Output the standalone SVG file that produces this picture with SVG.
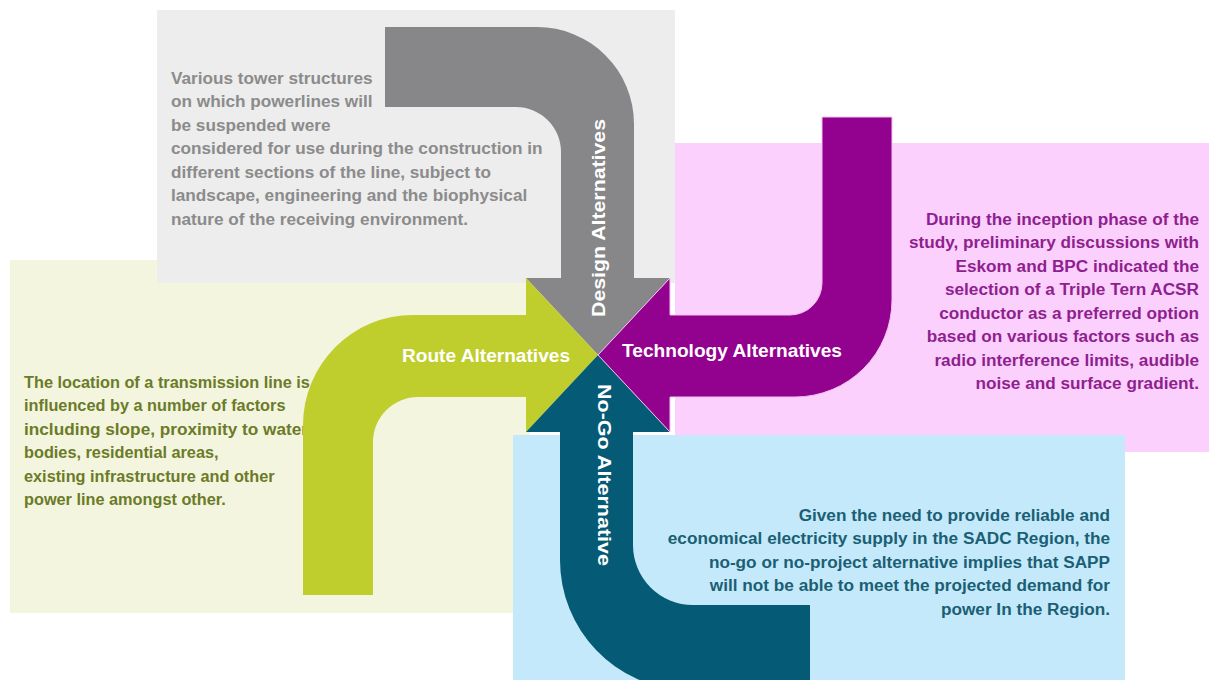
<svg xmlns="http://www.w3.org/2000/svg" width="1209" height="680" viewBox="0 0 1209 680">
<style>
.t{font-family:"Liberation Sans",Arial,"Helvetica",sans-serif;font-weight:bold}
.desc{font-size:17.2px}
.gtxt{fill:#8b8b8b}
.ptxt{fill:#8f1f8f;text-anchor:end}
.ltxt{fill:#6b7b28;font-size:16.3px}
.btxt{fill:#1b5f74;text-anchor:end}
.lbl{fill:#ffffff;text-anchor:middle}
</style>
<rect width="1209" height="680" fill="#ffffff"/>
<g id="route-node">
<rect x="10" y="260" width="520" height="353" fill="#f3f5df"/>
<text class="t ltxt" x="24" y="387.5">The location of a transmission line is</text>
<text class="t ltxt" x="24" y="411">influenced by a number of factors</text>
<text class="t ltxt" x="24" y="434.5" textLength="284" lengthAdjust="spacingAndGlyphs">including slope, proximity to water</text>
<text class="t ltxt" x="24" y="458">bodies, residential areas,</text>
<text class="t ltxt" x="24" y="481.5">existing infrastructure and other</text>
<text class="t ltxt" x="24" y="505">power line amongst other.</text>
</g>
<g id="design-node">
<rect x="157" y="10" width="518" height="273" fill="#ededed"/>
<text class="t desc gtxt" x="171" y="83.5">Various tower structures</text>
<text class="t desc gtxt" x="171" y="107">on which powerlines will</text>
<text class="t desc gtxt" x="171" y="130.5">be suspended were</text>
<text class="t desc gtxt" x="171" y="154">considered for use during the construction in</text>
<text class="t desc gtxt" x="171" y="177.5">different sections of the line, subject to</text>
<text class="t desc gtxt" x="171" y="201">landscape, engineering and the biophysical</text>
<text class="t desc gtxt" x="171" y="224.5">nature of the receiving environment.</text>
</g>
<g id="technology-node">
<rect x="675" y="143" width="534" height="309" fill="#fcd0fc"/>
<text class="t desc ptxt" x="1199" y="224.5">During the inception phase of the</text>
<text class="t desc ptxt" x="1199" y="248">study, preliminary discussions with</text>
<text class="t desc ptxt" x="1199" y="271.5">Eskom and BPC indicated the</text>
<text class="t desc ptxt" x="1199" y="295">selection of a Triple Tern ACSR</text>
<text class="t desc ptxt" x="1199" y="318.5">conductor as a preferred option</text>
<text class="t desc ptxt" x="1199" y="342">based on various factors such as</text>
<text class="t desc ptxt" x="1199" y="365.5">radio interference limits, audible</text>
<text class="t desc ptxt" x="1199" y="389">noise and surface gradient.</text>
</g>
<g id="nogo-node">
<rect x="513" y="435" width="612" height="250" fill="#c4e9fb"/>
<text class="t desc btxt" x="1110" y="520.5">Given the need to provide reliable and</text>
<text class="t desc btxt" x="1110" y="544">economical electricity supply in the SADC Region, the</text>
<text class="t desc btxt" x="1110" y="567.5">no-go or no-project alternative implies that SAPP</text>
<text class="t desc btxt" x="1110" y="591">will not be able to meet the projected demand for</text>
<text class="t desc btxt" x="1110" y="614.5">power In the Region.</text>
</g>
<g id="connectors">
<path id="design-arrow" fill="#87878a" d="M385,27 H537 A97,97 0 0 1 634,124 V278 H670 L598,355 L526,278 H561 V152 A45,45 0 0 0 516,107 H385 Z"/>
<path id="route-arrow" fill="#bfce2c" d="M303,595 V425 A110,110 0 0 1 413,315 H526 V278 L598,355 L526,432 V397 H418 A45,45 0 0 0 373,442 V595 Z"/>
<path id="nogo-arrow" fill="#055a75" d="M560,432 H526 L598,355 L670,432 H633 V545 A60,60 0 0 0 693,605 H810 V690 H685 A130,130 0 0 1 560,560 Z"/>
<path id="technology-arrow" fill="#93028f" stroke="#f0c4f0" stroke-width="1" d="M822,117 H892 V300 A97,97 0 0 1 795,397 H670 V432 L598,355 L670,278 V315 H790 A32,32 0 0 0 822,283 Z"/>
<text class="t lbl" font-size="19" x="486" y="362" textLength="168" lengthAdjust="spacingAndGlyphs">Route Alternatives</text>
<text class="t lbl" font-size="19" x="732" y="357" textLength="220" lengthAdjust="spacingAndGlyphs">Technology Alternatives</text>
<text class="t lbl" font-size="19" transform="translate(605,218) rotate(-90)" textLength="198" lengthAdjust="spacingAndGlyphs">Design Alternatives</text>
<text class="t lbl" font-size="19" transform="translate(598,475) rotate(90)" textLength="182" lengthAdjust="spacingAndGlyphs">No-Go Alternative</text>
</g>
</svg>
